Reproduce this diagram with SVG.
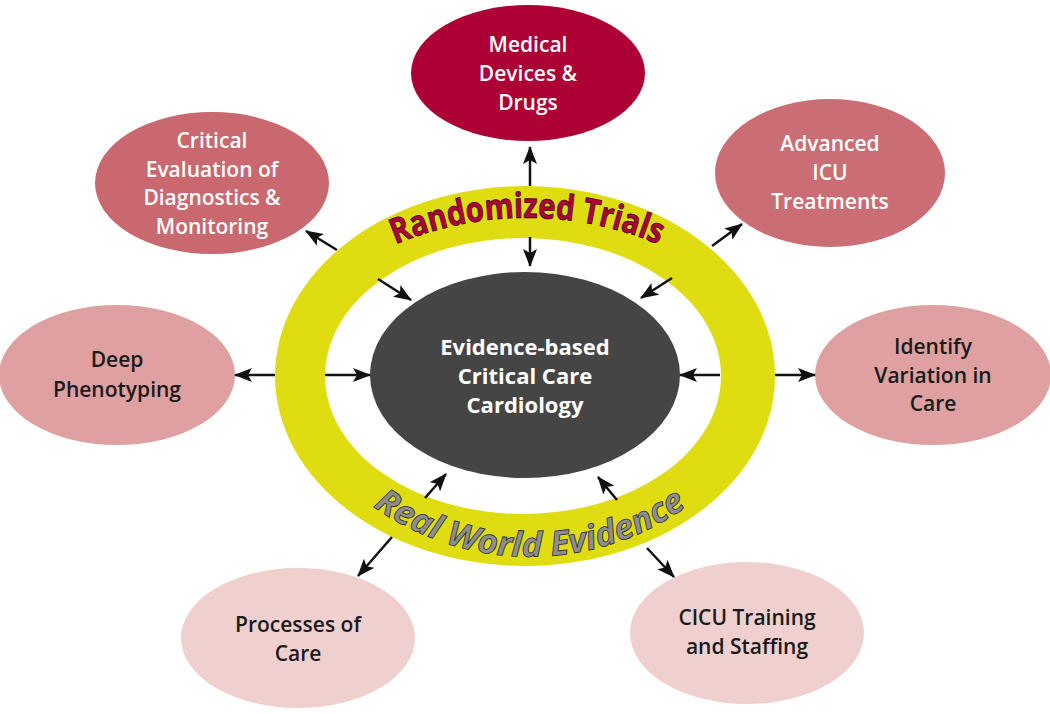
<svg xmlns="http://www.w3.org/2000/svg" width="1050" height="714" viewBox="0 0 1050 714">
<style>
.nt{font-family:"Open Sans","Noto Sans",sans-serif;font-size:21px;font-weight:600;text-anchor:middle}
.w{fill:#ffffff}
.d{fill:#1a1a1a}
.c{font-family:"Open Sans","Noto Sans",sans-serif;font-size:22px;font-weight:700;text-anchor:middle;fill:#ffffff}
.ar{stroke:#111;stroke-width:2.5;fill:none;marker-end:url(#ah)}
.rt{font-family:"Open Sans","Noto Sans",sans-serif;font-size:35px;font-weight:700;fill:#b0003a;stroke:#3a0012;stroke-width:0.8}
.rw{font-family:"Open Sans","Noto Sans",sans-serif;font-size:34px;font-weight:700;font-style:italic;fill:#8e8e8e;stroke:#2e2e2e;stroke-width:0.8}
</style>
<defs>
<marker id="ah" markerUnits="userSpaceOnUse" markerWidth="18" markerHeight="14" refX="17" refY="7" orient="auto">
<path d="M0,0 L18,7 L0,14 L4,7 Z" fill="#111"/>
</marker>
<path id="arcTop" d="M 387,248 A 340 340 0 0 1 667,248"/>
<path id="arcBot" d="M 370,504 A 269 269 0 0 0 690,504"/>
</defs>
<rect width="1050" height="714" fill="#ffffff"/>

<g id="ring">
<path fill-rule="evenodd" fill="#dfdd12" d="M 275,376 A 250 190 0 1 0 775,376 A 250 190 0 1 0 275,376 Z M 325,376 A 198 138 0 1 0 721,376 A 198 138 0 1 0 325,376 Z"/>
<text class="rt"><textPath href="#arcTop" startOffset="50%" text-anchor="middle" textLength="270" lengthAdjust="spacingAndGlyphs">Randomized Trials</textPath></text>
<text class="rw"><textPath href="#arcBot" startOffset="50%" text-anchor="middle" textLength="335" lengthAdjust="spacingAndGlyphs">Real World Evidence</textPath></text>
</g>

<g id="center">
<ellipse cx="525" cy="375" rx="155" ry="103" fill="#454545"/>
<text class="c" x="525" y="355">Evidence-based</text>
<text class="c" x="525" y="384">Critical Care</text>
<text class="c" x="525" y="413">Cardiology</text>
</g>

<g id="node-medical">
<ellipse cx="528" cy="73" rx="117" ry="68" fill="#ad0035"/>
<text class="nt w" x="528" y="52">Medical</text>
<text class="nt w" x="528" y="81">Devices &amp;</text>
<text class="nt w" x="528" y="110">Drugs</text>
</g>

<g id="node-critical">
<ellipse cx="212" cy="183" rx="117" ry="71" fill="#c9686f"/>
<text class="nt w" x="212" y="148">Critical</text>
<text class="nt w" x="212" y="177">Evaluation of</text>
<text class="nt w" x="212" y="205">Diagnostics &amp;</text>
<text class="nt w" x="212" y="234">Monitoring</text>
</g>

<g id="node-advanced">
<ellipse cx="830" cy="173" rx="115" ry="74" fill="#cb6d75"/>
<text class="nt w" x="830" y="151">Advanced</text>
<text class="nt w" x="830" y="180">ICU</text>
<text class="nt w" x="830" y="209">Treatments</text>
</g>

<g id="node-deep">
<ellipse cx="117" cy="375" rx="118" ry="70" fill="#dea0a1"/>
<text class="nt d" x="117" y="367">Deep</text>
<text class="nt d" x="117" y="397">Phenotyping</text>
</g>

<g id="node-identify">
<ellipse cx="933" cy="375" rx="118" ry="70" fill="#dea0a1"/>
<text class="nt d" x="933" y="354">Identify</text>
<text class="nt d" x="933" y="383">Variation in</text>
<text class="nt d" x="933" y="411">Care</text>
</g>

<g id="node-processes">
<ellipse cx="298" cy="638" rx="117" ry="70" fill="#efd0cf"/>
<text class="nt d" x="298" y="632">Processes of</text>
<text class="nt d" x="298" y="661">Care</text>
</g>

<g id="node-cicu">
<ellipse cx="747" cy="633" rx="117" ry="71" fill="#efd0cf"/>
<text class="nt d" x="747" y="625">CICU Training</text>
<text class="nt d" x="747" y="654">and Staffing</text>
</g>

<g id="connectors">
<line class="ar" x1="530" y1="186" x2="530" y2="147"/>
<line class="ar" x1="530" y1="237" x2="530" y2="266"/>
<line class="ar" x1="275" y1="375" x2="235" y2="375"/>
<line class="ar" x1="325" y1="375" x2="370" y2="375"/>
<line class="ar" x1="720" y1="375" x2="680" y2="375"/>
<line class="ar" x1="775" y1="375" x2="815" y2="375"/>
<line class="ar" x1="337" y1="250" x2="306" y2="231"/>
<line class="ar" x1="378" y1="279" x2="411" y2="300"/>
<line class="ar" x1="712" y1="246" x2="742" y2="224"/>
<line class="ar" x1="672" y1="278" x2="641" y2="298"/>
<line class="ar" x1="425" y1="498" x2="446" y2="474"/>
<line class="ar" x1="392" y1="537" x2="358" y2="576"/>
<line class="ar" x1="617" y1="500" x2="598" y2="477"/>
<line class="ar" x1="647" y1="548" x2="674" y2="577"/>
</g>
</svg>
